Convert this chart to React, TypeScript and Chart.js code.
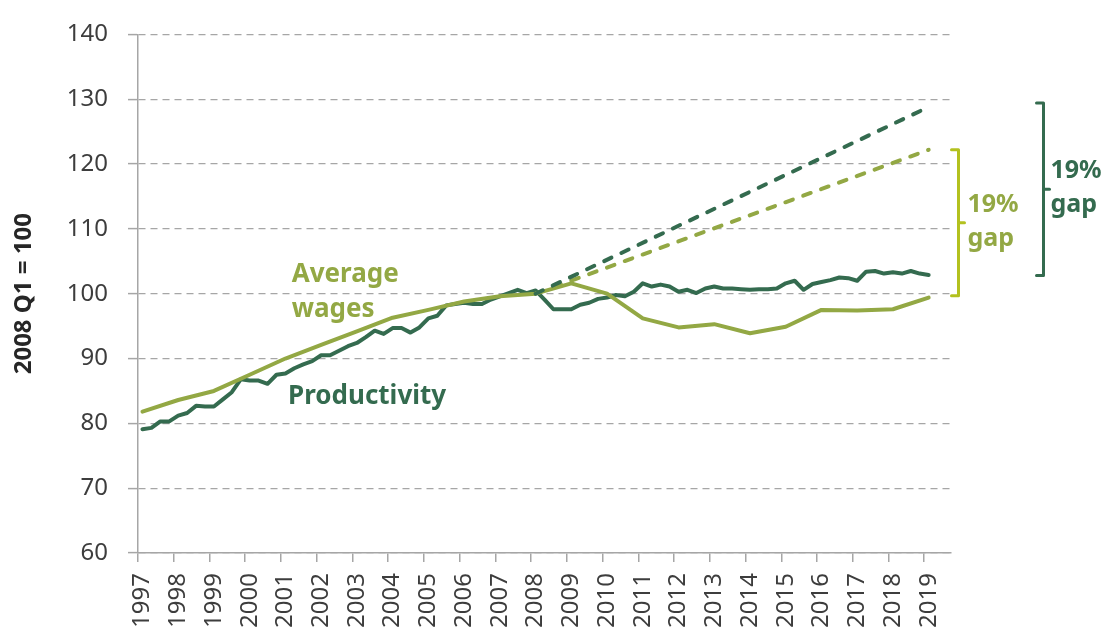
import React, { useEffect, useRef } from "react";
import { Chart, registerables } from "chart.js";

Chart.register(...registerables);

// ---------- data ----------
// quarterly category axis: 1997 Q1 ... 2019 Q3 (index 0 .. 90)
const QUARTER_COUNT = 91;
const yearLabels = [
  "1997", "1998", "1999", "2000", "2001", "2002", "2003", "2004", "2005", "2006", "2007", "2008",
  "2009", "2010", "2011", "2012", "2013", "2014", "2015", "2016", "2017", "2018", "2019",
];
const yTickValues = [60, 70, 80, 90, 100, 110, 120, 130, 140];

// Productivity, quarterly from 1997 Q1 to 2019 Q1
const productivity = [
  79.1, 79.3, 80.3, 80.3, 81.2, 81.6, 82.7, 82.6, 82.6, 83.7,
  84.8, 86.8, 86.6, 86.6, 86.1, 87.5, 87.7, 88.5, 89.1, 89.6,
  90.5, 90.5, 91.2, 91.9, 92.4, 93.3, 94.3, 93.8, 94.7, 94.7,
  94.0, 94.8, 96.2, 96.6, 98.2, 98.4, 98.6, 98.4, 98.4, 99.1,
  99.6, 100.1, 100.6, 100.1, 100.5, 99.1, 97.6, 97.6, 97.6, 98.3,
  98.6, 99.2, 99.4, 99.8, 99.6, 100.3, 101.6, 101.1, 101.4, 101.1,
  100.3, 100.6, 100.1, 100.8, 101.1, 100.8, 100.8, 100.7, 100.6, 100.7,
  100.7, 100.8, 101.6, 102.0, 100.6, 101.5, 101.8, 102.1, 102.5, 102.4,
  102.0, 103.4, 103.5, 103.1, 103.3, 103.1, 103.5, 103.1, 102.9,
];

// Average wages, annual (Q1 of each year)
const wageYears = [
  1997, 1998, 1999, 2000, 2001, 2002, 2003, 2004, 2005, 2006, 2007, 2008,
  2009, 2010, 2011, 2012, 2013, 2014, 2015, 2016, 2017, 2018, 2019,
];
const averageWages = [
  81.8, 83.6, 85.0, 87.5, 90.0, 92.1, 94.2, 96.3, 97.5, 98.8, 99.6, 100.0,
  101.6, 100.0, 96.2, 94.8, 95.3, 93.9, 94.9, 97.5, 97.4, 97.6, 99.4,
];

// Pre-crisis trend projections, 2008 Q1 -> 2019 Q1
const trendQuarters = [44, 88];
const productivityTrend = [100, 128.8];
const wagesTrend = [100, 122.2];

// Gap brackets (index values spanned)
const wagesGap = [99.7, 122.2];
const productivityGap = [102.8, 129.4];
const gapLabel = ["19%", "gap"];

// ---------- styles ----------
const DARK = "#346b4f";
const WAGE = "#93a844";
const BRACKET_LIGHT = "#b3c11f";
const GRID = "#a6a6a6";
const TICK_TEXT = "#3d3d3d";
const FONT = '"Noto Sans", "Open Sans", sans-serif';

function quarterOfYear(year: number) {
  return (year - 1997) * 4;
}

const annotationPlugin = {
  id: "gapAnnotations",
  afterDatasetsDraw(chart: any) {
    const { ctx, chartArea } = chart;
    const x = chart.scales.x;
    const y = chart.scales.y;
    ctx.save();
    ctx.textAlign = "left";
    ctx.textBaseline = "alphabetic";

    // series labels
    ctx.font = `bold 26px ${FONT}`;
    ctx.fillStyle = WAGE;
    ctx.fillText("Average", x.getPixelForValue(16.7), y.getPixelForValue(101.8));
    ctx.fillText("wages", x.getPixelForValue(16.7), y.getPixelForValue(96.4));
    ctx.fillStyle = DARK;
    ctx.fillText("Productivity", x.getPixelForValue(16.3), y.getPixelForValue(83.0));

    const drawBracket = (bx: number, lo: number, hi: number, color: string, textColor: string, textDx: number) => {
      const top = y.getPixelForValue(hi);
      const bottom = y.getPixelForValue(lo);
      const mid = (top + bottom) / 2;
      ctx.strokeStyle = color;
      ctx.lineWidth = 3;
      ctx.lineJoin = "round";
      ctx.lineCap = "round";
      ctx.beginPath();
      ctx.moveTo(bx - 7, top);
      ctx.lineTo(bx, top);
      ctx.lineTo(bx, bottom);
      ctx.lineTo(bx - 7, bottom);
      ctx.stroke();
      ctx.beginPath();
      ctx.moveTo(bx, mid);
      ctx.lineTo(bx + 6, mid);
      ctx.stroke();
      ctx.fillStyle = textColor;
      ctx.font = `bold 25px ${FONT}`;
      ctx.fillText(gapLabel[0], bx + textDx, mid - 11);
      ctx.fillText(gapLabel[1], bx + textDx, mid + 23);
    };

    drawBracket(chartArea.right + 7.5, wagesGap[0], wagesGap[1], BRACKET_LIGHT, WAGE, 9);
    drawBracket(chartArea.right + 92.5, productivityGap[0], productivityGap[1], DARK, DARK, 7);
    ctx.restore();
  },
};

export default function App() {
  const canvasRef = useRef<HTMLCanvasElement | null>(null);

  useEffect(() => {
    const canvas = canvasRef.current;
    if (!canvas) return;
    Chart.defaults.font.family = FONT;

    const chart = new Chart(canvas, {
      type: "line",
      data: {
        datasets: [
          {
            label: "Productivity trend",
            data: trendQuarters.map((q, i) => ({ x: q, y: productivityTrend[i] })),
            borderColor: DARK,
            borderWidth: 4,
            borderDash: [8, 11],
            borderCapStyle: "round",
            pointRadius: 0,
          },
          {
            label: "Wages trend",
            data: trendQuarters.map((q, i) => ({ x: q, y: wagesTrend[i] })),
            borderColor: WAGE,
            borderWidth: 4,
            borderDash: [8, 11],
            borderCapStyle: "round",
            pointRadius: 0,
          },
          {
            label: "Average wages",
            data: wageYears.map((yr, i) => ({ x: quarterOfYear(yr), y: averageWages[i] })),
            borderColor: WAGE,
            borderWidth: 4,
            borderJoinStyle: "round",
            borderCapStyle: "round",
            pointRadius: 0,
          },
          {
            label: "Productivity",
            data: productivity.map((v, i) => ({ x: i, y: v })),
            borderColor: DARK,
            borderWidth: 4,
            borderJoinStyle: "round",
            borderCapStyle: "round",
            pointRadius: 0,
          },
        ],
      },
      options: {
        animation: false,
        responsive: false,
        devicePixelRatio: 1,
        layout: { padding: { top: 24, right: 154, bottom: 0, left: 0 } },
        plugins: {
          legend: { display: false },
          tooltip: { enabled: false },
        },
        elements: { line: { tension: 0 }, point: { radius: 0 } },
        scales: {
          x: {
            type: "linear",
            min: -0.5,
            max: QUARTER_COUNT - 0.5,
            afterBuildTicks: (s: any) => {
              s.ticks = yearLabels.map((_, i) => ({ value: i * 4 - 0.5 }));
            },
            afterFit: (s: any) => {
              s.height = 79;
            },
            grid: {
              drawOnChartArea: false,
              drawTicks: true,
              tickLength: 9,
              color: GRID,
              lineWidth: 1.5,
            },
            border: { color: GRID, width: 1.5 },
            ticks: {
              autoSkip: false,
              maxRotation: 90,
              minRotation: 90,
              padding: 11,
              labelOffset: 4.5,
              color: TICK_TEXT,
              font: { size: 24, family: FONT },
              callback: (_v: any, i: number) => yearLabels[i],
            },
          },
          y: {
            type: "linear",
            min: 60,
            max: 140,
            afterBuildTicks: (s: any) => {
              s.ticks = yTickValues.map((v) => ({ value: v }));
            },
            afterFit: (s: any) => {
              s.width = 138;
            },
            title: {
              display: true,
              text: "2008 Q1 = 100",
              color: "#262626",
              font: { size: 24, weight: "bold", family: FONT },
              padding: { top: 10, bottom: 0 },
            },
            grid: {
              color: GRID,
              lineWidth: 1.2,
              tickLength: 10,
              tickColor: GRID,
              tickWidth: 1.5,
            },
            border: { color: GRID, width: 1.5, dash: [7, 5] },
            ticks: {
              padding: 20,
              color: TICK_TEXT,
              font: { size: 24, family: FONT },
              callback: (v: any) => String(v),
            },
          },
        },
      },
      plugins: [annotationPlugin],
    } as any);

    return () => chart.destroy();
  }, []);

  return (
    <div style={{ position: "absolute", left: 0, top: 0, width: 1105, height: 632, background: "#fff" }}>
      <canvas ref={canvasRef} width={1105} height={632} style={{ display: "block" }} />
    </div>
  );
}
